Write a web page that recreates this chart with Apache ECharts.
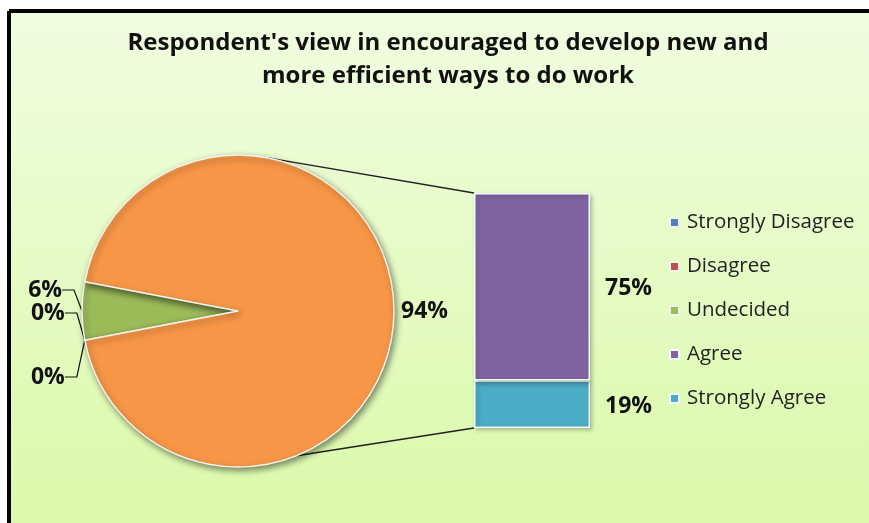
<!DOCTYPE html>
<html><head><meta charset="utf-8">
<script src="https://cdn.jsdelivr.net/npm/echarts@6/dist/echarts.min.js"></script>
<style>html,body{margin:0;padding:0;background:#fff}#c{width:869px;height:523px}</style></head>
<body><div id="c"></div>
<script>
const titleLines = ["Respondent's view in encouraged to develop new and", "more efficient ways to do work"];
const pieNames = ["Strongly Disagree", "Disagree", "Undecided", "Other"];
const pieValues = [0, 0, 6, 94];
const barNames = ["Strongly Agree", "Agree"];
const barValues = [19, 75];
const legendNames = ["Strongly Disagree", "Disagree", "Undecided", "Agree", "Strongly Agree"];
const colorMap = {
  "Strongly Disagree": "#4f81bd", "Disagree": "#c0504d", "Undecided": "#9bbb59",
  "Other": "#f79646", "Agree": "#8064a2", "Strongly Agree": "#4bacc6"
};

const FONT = '"Open Sans"';
const pieCenter = [238, 311];
const pieRadius = 156;
const pieTotal = pieValues.reduce((a, b) => a + b, 0);
const startAngle = 180 + pieValues[2] / pieTotal * 360 / 2;
const barTotal = barValues.reduce((a, b) => a + b, 0);
const gridBox = { left: 474, top: 193, width: 116, height: 235 };
// vertical nudges of the left-hand pie labels (spread them apart like the original)
const pieLabelNudge = [-28, 36, -21, 0];

const chart = echarts.init(document.getElementById('c'));

const pieData = pieNames.map((n, i) => {
  const d = { name: n, value: pieValues[i], itemStyle: { color: colorMap[n] } };
  if (n === 'Other') {
    d.label = { position: 'outside', distanceToLabelLine: 3 };
    d.labelLine = { show: false, length: 4, length2: 0 };
  }
  return d;
});

const barSeries = barNames.map((n, i) => ({
  name: n, type: 'bar', stack: 'b', barWidth: '100%',
  data: [barValues[i]],
  itemStyle: { color: colorMap[n], borderColor: '#f4f8f8', borderWidth: 1.5,
    shadowBlur: 4, shadowOffsetX: 2, shadowOffsetY: 2, shadowColor: 'rgba(0,0,0,0.25)' },
  label: { show: true, position: 'right', distance: 15, offset: [0, 2], formatter: '{c}%',
    fontFamily: FONT, fontWeight: 'bold', fontSize: 23, color: '#111' }
}));

chart.setOption({
  animation: false,
  backgroundColor: '#ffffff',
  title: {
    text: titleLines.join('\n'), left: 448, textAlign: 'center', top: 27, padding: 0,
    textStyle: { fontFamily: FONT, fontWeight: 'bold', fontSize: 24, lineHeight: 33, color: '#111' }
  },
  legend: {
    data: legendNames, orient: 'vertical', left: 664, top: 207,
    itemWidth: 9, itemHeight: 9, itemGap: 23, icon: 'rect',
    textStyle: { fontFamily: FONT, fontSize: 20.5, color: '#222', padding: [0, 0, 0, 3] }
  },
  grid: { left: gridBox.left, top: gridBox.top, width: gridBox.width, height: gridBox.height },
  xAxis: { type: 'category', data: ['bar'], show: false },
  yAxis: { type: 'value', min: 0, max: barTotal, show: false },
  graphic: [{
    type: 'rect', z: -10, silent: true,
    shape: { x: 9, y: 11, width: 900, height: 560, r: [0, 0, 0, 10] },
    style: {
      fill: new echarts.graphic.LinearGradient(0, 0, 0, 1, [
        { offset: 0, color: '#f0fde1' }, { offset: 1, color: '#d8f9a4' }]),
      stroke: '#000', lineWidth: 4
    }
  }],
  series: [{
    type: 'pie', center: pieCenter, radius: pieRadius,
    startAngle: startAngle, clockwise: true, minAngle: 0,
    avoidLabelOverlap: false,
    data: pieData,
    itemStyle: { borderColor: '#f4f4ec', borderWidth: 1.5,
      shadowBlur: 6, shadowOffsetX: 2, shadowOffsetY: 3, shadowColor: 'rgba(0,0,0,0.45)' },
    label: { show: true, position: 'outside', formatter: '{c}%', distanceToLabelLine: 3,
      fontFamily: FONT, fontWeight: 'bold', fontSize: 23, color: '#111' },
    labelLine: { show: true, length: 4, length2: 12, lineStyle: { color: '#111', width: 1.2 } },
    labelLayout: function (p) {
      const dy = pieLabelNudge[p.dataIndex];
      if (!dy) return {};
      return { x: p.labelRect.x - 1, y: p.labelRect.y + dy, align: 'left', verticalAlign: 'top' };
    },
    emphasis: { disabled: true }
  }].concat(barSeries)
});

// connector lines between pie and bar
const toRad = a => a * Math.PI / 180;
const piePt = a => [pieCenter[0] + pieRadius * Math.cos(toRad(a)), pieCenter[1] - pieRadius * Math.sin(toRad(a))];
const yTop = chart.convertToPixel({ yAxisIndex: 0 }, barTotal);
const yBot = chart.convertToPixel({ yAxisIndex: 0 }, 0);
const xLeft = gridBox.left;
chart.setOption({
  graphic: [{}, {
    type: 'group', z: 1, children: [
      { type: 'line', shape: { x1: piePt(79)[0], y1: piePt(79)[1], x2: xLeft, y2: yTop }, style: { stroke: '#222', lineWidth: 1.5 } },
      { type: 'line', shape: { x1: piePt(-68)[0], y1: piePt(-68)[1], x2: xLeft, y2: yBot }, style: { stroke: '#222', lineWidth: 1.5 } }
    ]
  }]
});
</script></body></html>
